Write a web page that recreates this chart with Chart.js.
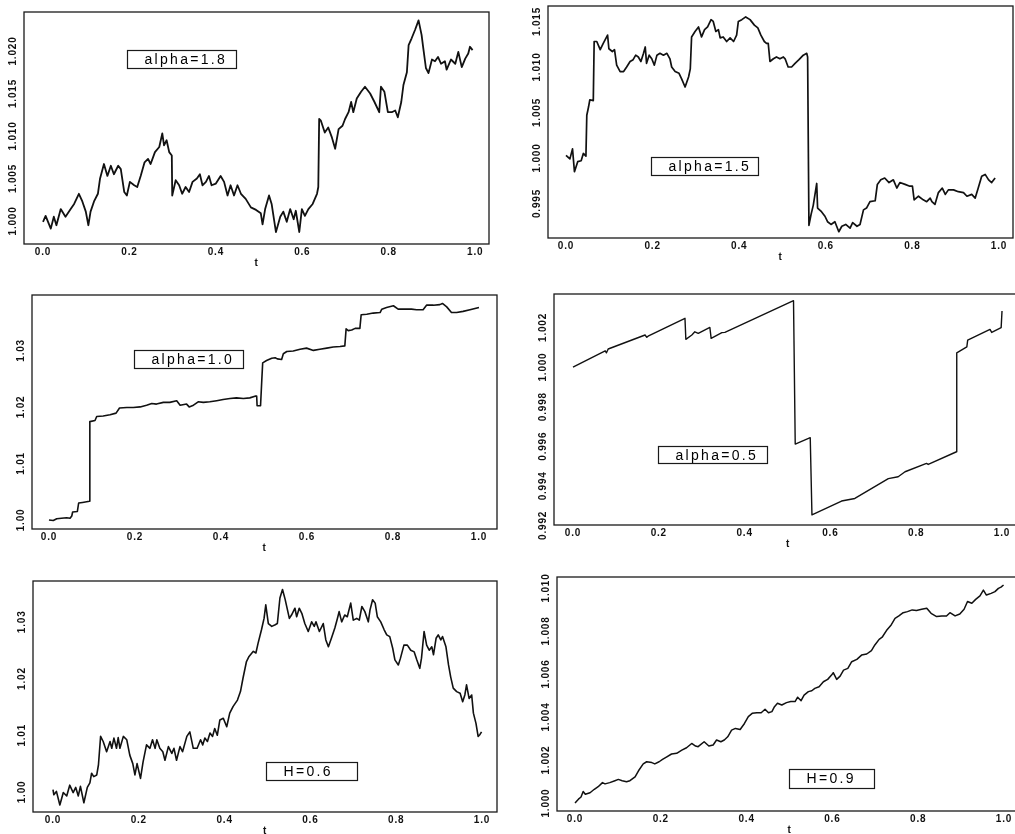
<!DOCTYPE html>
<html>
<head>
<meta charset="utf-8">
<script src="https://cdn.jsdelivr.net/npm/chart.js@4.4.1/dist/chart.umd.min.js"></script>
<style>
  html, body { margin: 0; padding: 0; background: #fff; overflow: hidden; width: 1015px; height: 834px; }
  canvas { position: absolute; }
</style>
</head>
<body>
<canvas id="c1"></canvas>
<canvas id="c2"></canvas>
<canvas id="c3"></canvas>
<canvas id="c4"></canvas>
<canvas id="c5"></canvas>
<canvas id="c6"></canvas>
<script>
'use strict';

let xTicks = [0, 0.2, 0.4, 0.6, 0.8, 1.0];
let panelLabels = ['alpha=1.8', 'alpha=1.5', 'alpha=1.0', 'alpha=0.5', 'H=0.6', 'H=0.9'];

// alpha=1.8
let p1T = [0, 0.006, 0.018, 0.025, 0.031, 0.041, 0.052, 0.064, 0.072, 0.083,
  0.091, 0.099, 0.105, 0.110, 0.118, 0.127, 0.132, 0.141, 0.149, 0.157,
  0.164, 0.174, 0.180, 0.188, 0.194, 0.201, 0.211, 0.218, 0.226, 0.235,
  0.243, 0.249, 0.259, 0.269, 0.276, 0.280, 0.286, 0.292, 0.298, 0.299,
  0.307, 0.315, 0.322, 0.330, 0.338, 0.346, 0.356, 0.363, 0.369, 0.377,
  0.384, 0.390, 0.400, 0.411, 0.419, 0.427, 0.434, 0.442, 0.450, 0.458,
  0.469, 0.481, 0.493, 0.504, 0.508, 0.514, 0.523, 0.529, 0.539, 0.549,
  0.556, 0.564, 0.572, 0.580, 0.585, 0.593, 0.599, 0.606, 0.614, 0.624,
  0.634, 0.637, 0.639, 0.643, 0.652, 0.660, 0.668, 0.676, 0.684, 0.693,
  0.699, 0.707, 0.713, 0.718, 0.726, 0.736, 0.745, 0.757, 0.767, 0.778,
  0.782, 0.790, 0.798, 0.807, 0.815, 0.821, 0.829, 0.834, 0.842, 0.846,
  0.853, 0.861, 0.869, 0.876, 0.880, 0.886, 0.892, 0.900, 0.907, 0.914,
  0.921, 0.930, 0.934, 0.944, 0.954, 0.961, 0.969, 0.977, 0.984, 0.988,
  0.994];
let p1V = [0.9999, 1.0006, 0.9991, 1.0005, 0.9995, 1.0014, 1.0005, 1.0014, 1.0020, 1.0032,
  1.0023, 1.0011, 0.9995, 1.0011, 1.0023, 1.0032, 1.0050, 1.0067, 1.0053, 1.0065,
  1.0055, 1.0065, 1.0061, 1.0034, 1.0030, 1.0046, 1.0042, 1.0040, 1.0053, 1.0069,
  1.0073, 1.0067, 1.0081, 1.0087, 1.0103, 1.0089, 1.0095, 1.0081, 1.0077, 1.0030,
  1.0048, 1.0042, 1.0032, 1.0040, 1.0034, 1.0046, 1.0050, 1.0055, 1.0042, 1.0046,
  1.0053, 1.0042, 1.0044, 1.0053, 1.0046, 1.0030, 1.0042, 1.0030, 1.0042, 1.0032,
  1.0026, 1.0016, 1.0013, 1.0009, 0.9996, 1.0014, 1.0030, 1.0020, 0.9987, 1.0005,
  1.0011, 0.9999, 1.0014, 1.0002, 1.0012, 0.9987, 1.0014, 1.0006, 1.0014, 1.0020,
  1.0032, 1.0040, 1.0120, 1.0118, 1.0104, 1.0110, 1.0099, 1.0085, 1.0108, 1.0112,
  1.0120, 1.0128, 1.0140, 1.0128, 1.0144, 1.0152, 1.0158, 1.0150, 1.0140, 1.0128,
  1.0158, 1.0152, 1.0128, 1.0128, 1.0130, 1.0122, 1.0140, 1.0160, 1.0175, 1.0207,
  1.0215, 1.0225, 1.0236, 1.0219, 1.0203, 1.0180, 1.0174, 1.0190, 1.0188, 1.0193,
  1.0185, 1.0188, 1.0178, 1.0190, 1.0185, 1.0199, 1.0181, 1.0191, 1.0197, 1.0205,
  1.0201];
let p1YTicks = [1.000, 1.005, 1.010, 1.015, 1.020];

// alpha=1.5
let p2T = [0, 0.009, 0.015, 0.0195, 0.027, 0.035, 0.040, 0.046, 0.048, 0.052,
  0.055, 0.063, 0.065, 0.071, 0.079, 0.086, 0.096, 0.099, 0.107, 0.112,
  0.117, 0.125, 0.133, 0.140, 0.148, 0.155, 0.161, 0.167, 0.173, 0.179,
  0.183, 0.186, 0.192, 0.198, 0.204, 0.210, 0.217, 0.225, 0.233, 0.240,
  0.244, 0.252, 0.261, 0.267, 0.275, 0.283, 0.287, 0.290, 0.298, 0.306,
  0.313, 0.320, 0.327, 0.335, 0.340, 0.346, 0.352, 0.356, 0.363, 0.371,
  0.379, 0.387, 0.394, 0.398, 0.406, 0.415, 0.425, 0.435, 0.443, 0.450,
  0.458, 0.463, 0.467, 0.471, 0.479, 0.486, 0.494, 0.502, 0.506, 0.513,
  0.521, 0.529, 0.538, 0.548, 0.556, 0.558, 0.561, 0.566, 0.571, 0.579,
  0.581, 0.590, 0.598, 0.604, 0.612, 0.621, 0.630, 0.637, 0.646, 0.656,
  0.662, 0.672, 0.679, 0.687, 0.694, 0.702, 0.714, 0.719, 0.727, 0.736,
  0.746, 0.756, 0.764, 0.771, 0.783, 0.794, 0.800, 0.804, 0.814, 0.825,
  0.833, 0.841, 0.845, 0.852, 0.860, 0.869, 0.876, 0.883, 0.895, 0.906,
  0.918, 0.926, 0.937, 0.945, 0.952, 0.960, 0.968, 0.976, 0.983, 0.991];
let p2V = [1.0003, 0.9999, 1.0010, 0.9985, 0.9996, 0.9997, 1.0005, 1.0002, 1.0047, 1.0056,
  1.0064, 1.0063, 1.0128, 1.0128, 1.0119, 1.0126, 1.0135, 1.0120, 1.0117, 1.0119,
  1.0102, 1.0095, 1.0095, 1.0100, 1.0106, 1.0108, 1.0113, 1.0111, 1.0106, 1.0115,
  1.0122, 1.0104, 1.0113, 1.0109, 1.0102, 1.0113, 1.0115, 1.0113, 1.0115, 1.0109,
  1.0100, 1.0095, 1.0093, 1.0087, 1.0078, 1.0089, 1.0098, 1.0133, 1.0139, 1.0144,
  1.0133, 1.0141, 1.0144, 1.0152, 1.0150, 1.0139, 1.0141, 1.0132, 1.0133, 1.0128,
  1.0132, 1.0128, 1.0135, 1.0150, 1.0152, 1.0155, 1.0152, 1.0146, 1.0143, 1.0135,
  1.0128, 1.0126, 1.0126, 1.0106, 1.0109, 1.0111, 1.0109, 1.0111, 1.0109, 1.0100,
  1.0100, 1.0104, 1.0108, 1.0113, 1.0115, 1.0111, 0.9926, 0.9938, 0.9948, 0.9972,
  0.9945, 0.9941, 0.9936, 0.9930, 0.9927, 0.9930, 0.9919, 0.9925, 0.9927, 0.9923,
  0.9929, 0.9925, 0.9927, 0.9943, 0.9945, 0.9952, 0.9953, 0.9971, 0.9976, 0.9978,
  0.9973, 0.9976, 0.9967, 0.9973, 0.9971, 0.9969, 0.9969, 0.9954, 0.9958, 0.9954,
  0.9952, 0.9956, 0.9952, 0.9949, 0.9962, 0.9967, 0.9960, 0.9965, 0.9965, 0.9963,
  0.9962, 0.9958, 0.9960, 0.9956, 0.9967, 0.9980, 0.9982, 0.9976, 0.9973, 0.9978];
let p2YTicks = [0.995, 1.000, 1.005, 1.010, 1.015];

// alpha=1.0
let p3T = [0, 0.010, 0.018, 0.029, 0.041, 0.049, 0.053, 0.055, 0.066, 0.069,
  0.078, 0.094, 0.095, 0.107, 0.111, 0.126, 0.142, 0.156, 0.164, 0.181,
  0.196, 0.212, 0.227, 0.239, 0.250, 0.266, 0.281, 0.297, 0.305, 0.320,
  0.326, 0.336, 0.347, 0.359, 0.374, 0.390, 0.405, 0.421, 0.436, 0.452,
  0.467, 0.479, 0.483, 0.484, 0.492, 0.495, 0.497, 0.506, 0.518, 0.526,
  0.531, 0.541, 0.545, 0.553, 0.568, 0.584, 0.599, 0.615, 0.630, 0.646,
  0.661, 0.677, 0.688, 0.691, 0.696, 0.704, 0.712, 0.723, 0.726, 0.739,
  0.754, 0.770, 0.774, 0.785, 0.801, 0.812, 0.828, 0.843, 0.855, 0.870,
  0.878, 0.894, 0.909, 0.915, 0.925, 0.936, 0.948, 0.963, 0.979, 1.0];
let p3V = [1.0000, 0.9999, 1.0002, 1.0003, 1.0004, 1.0003, 1.0007, 1.0014, 1.0015, 1.0030,
  1.0031, 1.0033, 1.0174, 1.0176, 1.0183, 1.0184, 1.0186, 1.0189, 1.0198, 1.0199,
  1.0199, 1.0200, 1.0203, 1.0206, 1.0205, 1.0208, 1.0208, 1.0211, 1.0203, 1.0205,
  1.0200, 1.0203, 1.0209, 1.0208, 1.0209, 1.0211, 1.0213, 1.0215, 1.0216, 1.0215,
  1.0216, 1.0219, 1.0219, 1.0202, 1.0202, 1.0249, 1.0278, 1.0282, 1.0286, 1.0287,
  1.0285, 1.0284, 1.0294, 1.0298, 1.0299, 1.0302, 1.0304, 1.0300, 1.0302, 1.0304,
  1.0306, 1.0307, 1.0308, 1.0338, 1.0335, 1.0336, 1.0339, 1.0339, 1.0363, 1.0364,
  1.0366, 1.0367, 1.0373, 1.0376, 1.0379, 1.0373, 1.0373, 1.0373, 1.0372, 1.0372,
  1.0380, 1.0380, 1.0381, 1.0383, 1.0377, 1.0367, 1.0367, 1.0369, 1.0372, 1.0376];
let p3YTicks = [1.00, 1.01, 1.02, 1.03];

// alpha=0.5
let p4T = [0, 0.075, 0.078, 0.082, 0.168, 0.172, 0.175, 0.261, 0.263, 0.277,
  0.284, 0.292, 0.319, 0.322, 0.347, 0.354, 0.514, 0.518, 0.553, 0.557,
  0.626, 0.657, 0.735, 0.758, 0.774, 0.824, 0.828, 0.894, 0.8945, 0.918,
  0.920, 0.972, 0.976, 0.998, 1.0];
let p4V = [1.00000, 1.00082, 1.00072, 1.00091, 1.00162, 1.00150, 1.00156, 1.00246, 1.00140, 1.00162,
  1.00178, 1.00170, 1.00200, 1.00145, 1.00174, 1.00175, 1.00335, 0.99611, 0.99643, 0.99253,
  0.99323, 0.99336, 0.99436, 0.99446, 0.99471, 0.99513, 0.99508, 0.99572, 1.00072, 1.00102,
  1.00136, 1.00190, 1.00175, 1.00199, 1.00283];
let p4YTicks = [0.992, 0.994, 0.996, 0.998, 1.000, 1.002];

// H=0.6
let p5T = [0, 0.002, 0.008, 0.016, 0.024, 0.032, 0.039, 0.047, 0.053, 0.059,
  0.064, 0.072, 0.080, 0.086, 0.090, 0.095, 0.102, 0.106, 0.111, 0.117,
  0.125, 0.133, 0.137, 0.142, 0.148, 0.152, 0.156, 0.164, 0.172, 0.179,
  0.186, 0.191, 0.196, 0.204, 0.210, 0.218, 0.226, 0.232, 0.238, 0.242,
  0.249, 0.256, 0.261, 0.269, 0.277, 0.282, 0.288, 0.296, 0.302, 0.312,
  0.319, 0.327, 0.336, 0.344, 0.349, 0.354, 0.360, 0.366, 0.372, 0.377,
  0.383, 0.389, 0.397, 0.405, 0.412, 0.420, 0.430, 0.437, 0.443, 0.451,
  0.457, 0.467, 0.473, 0.478, 0.486, 0.492, 0.496, 0.502, 0.510, 0.518,
  0.523, 0.529, 0.535, 0.541, 0.551, 0.556, 0.564, 0.568, 0.574, 0.580,
  0.587, 0.595, 0.603, 0.609, 0.613, 0.621, 0.630, 0.636, 0.642, 0.649,
  0.657, 0.663, 0.667, 0.673, 0.680, 0.686, 0.694, 0.700, 0.708, 0.714,
  0.720, 0.727, 0.735, 0.739, 0.745, 0.751, 0.756, 0.764, 0.772, 0.778,
  0.785, 0.792, 0.797, 0.805, 0.810, 0.818, 0.826, 0.834, 0.842, 0.848,
  0.855, 0.859, 0.865, 0.871, 0.877, 0.883, 0.887, 0.893, 0.898, 0.904,
  0.908, 0.916, 0.922, 0.927, 0.933, 0.941, 0.949, 0.955, 0.960, 0.964,
  0.970, 0.976, 0.980, 0.986, 0.991, 0.995, 0.999];
let p5V = [1.0004, 0.9995, 1.0001, 0.9977, 0.9999, 0.9993, 1.0012, 0.9999, 1.0008, 0.9993,
  1.0010, 0.9981, 1.0008, 1.0016, 1.0033, 1.0027, 1.0030, 1.0048, 1.0098, 1.0089,
  1.0071, 1.0089, 1.0077, 1.0095, 1.0077, 1.0096, 1.0077, 1.0098, 1.0092, 1.0065,
  1.0050, 1.0030, 1.0050, 1.0024, 1.0053, 1.0083, 1.0077, 1.0092, 1.0077, 1.0092,
  1.0077, 1.0071, 1.0056, 1.0080, 1.0068, 1.0077, 1.0056, 1.0080, 1.0071, 1.0098,
  1.0106, 1.0077, 1.0077, 1.0092, 1.0083, 1.0095, 1.0089, 1.0104, 1.0098, 1.0112,
  1.0100, 1.0127, 1.0130, 1.0115, 1.0139, 1.0151, 1.0162, 1.0177, 1.0201, 1.0230,
  1.0239, 1.0248, 1.0245, 1.0262, 1.0286, 1.0306, 1.0330, 1.0297, 1.0292, 1.0295,
  1.0297, 1.0342, 1.0357, 1.0340, 1.0306, 1.0312, 1.0324, 1.0309, 1.0324, 1.0315,
  1.0297, 1.0283, 1.0300, 1.0292, 1.0300, 1.0283, 1.0297, 1.0268, 1.0256, 1.0271,
  1.0289, 1.0306, 1.0318, 1.0300, 1.0312, 1.0309, 1.0333, 1.0303, 1.0306, 1.0303,
  1.0327, 1.0318, 1.0300, 1.0321, 1.0339, 1.0333, 1.0309, 1.0300, 1.0286, 1.0277,
  1.0274, 1.0253, 1.0233, 1.0224, 1.0236, 1.0259, 1.0259, 1.0250, 1.0247, 1.0233,
  1.0218, 1.0236, 1.0283, 1.0259, 1.0250, 1.0256, 1.0242, 1.0271, 1.0277, 1.0268,
  1.0274, 1.0256, 1.0224, 1.0203, 1.0183, 1.0177, 1.0174, 1.0159, 1.0171, 1.0189,
  1.0165, 1.0171, 1.0139, 1.0121, 1.0098, 1.0101, 1.0106];
let p5YTicks = [1.00, 1.01, 1.02, 1.03];

// H=0.9
let p6T = [0, 0.008, 0.014, 0.019, 0.024, 0.035, 0.045, 0.054, 0.064, 0.070,
  0.081, 0.093, 0.101, 0.110, 0.120, 0.128, 0.140, 0.148, 0.159, 0.167,
  0.179, 0.186, 0.196, 0.204, 0.214, 0.225, 0.237, 0.249, 0.260, 0.272,
  0.281, 0.287, 0.301, 0.312, 0.322, 0.330, 0.340, 0.348, 0.356, 0.365,
  0.374, 0.385, 0.395, 0.404, 0.413, 0.424, 0.434, 0.443, 0.451, 0.459,
  0.465, 0.472, 0.482, 0.493, 0.503, 0.513, 0.519, 0.527, 0.534, 0.544,
  0.552, 0.559, 0.569, 0.579, 0.589, 0.598, 0.602, 0.610, 0.618, 0.626,
  0.636, 0.645, 0.657, 0.668, 0.680, 0.691, 0.699, 0.709, 0.716, 0.726,
  0.737, 0.746, 0.755, 0.765, 0.775, 0.786, 0.796, 0.808, 0.820, 0.830,
  0.843, 0.855, 0.866, 0.874, 0.886, 0.897, 0.907, 0.915, 0.925, 0.934,
  0.944, 0.952, 0.959, 0.970, 0.979, 0.987, 0.993, 0.999];
let p6V = [1.00000, 1.00018, 1.00028, 1.00054, 1.00041, 1.00048, 1.00064, 1.00076, 1.00095, 1.00089,
  1.00095, 1.00104, 1.00110, 1.00104, 1.00099, 1.00104, 1.00122, 1.00150, 1.00182, 1.00192,
  1.00188, 1.00182, 1.00192, 1.00203, 1.00215, 1.00228, 1.00231, 1.00246, 1.00257, 1.00277,
  1.00265, 1.00262, 1.00285, 1.00265, 1.00270, 1.00293, 1.00285, 1.00293, 1.00308, 1.00339,
  1.00347, 1.00342, 1.00370, 1.00402, 1.00417, 1.00420, 1.00420, 1.00436, 1.00420, 1.00425,
  1.00448, 1.00464, 1.00456, 1.00467, 1.00472, 1.00472, 1.00492, 1.00476, 1.00502, 1.00518,
  1.00522, 1.00533, 1.00541, 1.00564, 1.00575, 1.00595, 1.00606, 1.00575, 1.00590, 1.00618,
  1.00626, 1.00657, 1.00668, 1.00688, 1.00693, 1.00709, 1.00735, 1.00761, 1.00771, 1.00802,
  1.00828, 1.00859, 1.00870, 1.00885, 1.00890, 1.00898, 1.00895, 1.00901, 1.00906, 1.00882,
  1.00867, 1.00870, 1.00870, 1.00885, 1.00870, 1.00879, 1.00901, 1.00937, 1.00929, 1.00947,
  1.00963, 1.00990, 1.00967, 1.00975, 1.00983, 1.00998, 1.01004, 1.01014];
let p6YTicks = [1.000, 1.002, 1.004, 1.006, 1.008, 1.010];

const FONT = '"Liberation Sans", Arial, sans-serif';
const Y_AXIS_W = 24;
const X_AXIS_H = 25;
const PAD = 3;

// frame = plot box on the page, box = label box relative to the plot box
let panels = [
  { id: 'c1', t: p1T, v: p1V, yTicks: p1YTicks, dec: 3, lw: 1.8, frame: [24, 12, 489, 244],
    x: [-0.044, 1.032], y: [0.99729, 1.02459], box: [103, 38, 109, 18] },
  { id: 'c2', t: p2T, v: p2V, yTicks: p2YTicks, dec: 3, lw: 1.7, frame: [548, 6, 1013, 238],
    x: [-0.0416, 1.0323], y: [0.99121, 1.0167], box: [103, 151, 107, 18] },
  { id: 'c3', t: p3T, v: p3V, yTicks: p3YTicks, dec: 2, lw: 1.6, frame: [32, 295, 497, 529],
    x: [-0.0395, 1.0419], y: [0.9984, 1.0398], box: [102, 55, 109, 18] },
  { id: 'c4', t: p4T, v: p4V, yTicks: p4YTicks, dec: 3, lw: 1.4, frame: [554, 294, 1022, 525],
    x: [-0.0443, 1.0466], y: [0.99202, 1.00369], box: [104, 152, 109, 17] },
  { id: 'c5', t: p5T, v: p5V, yTicks: p5YTicks, dec: 2, lw: 1.6, frame: [33, 581, 497, 812],
    x: [-0.0466, 1.035], y: [0.99647, 1.0372], box: [233, 181, 91, 18] },
  { id: 'c6', t: p6T, v: p6V, yTicks: p6YTicks, dec: 3, lw: 1.5, frame: [557, 577, 1022, 811],
    x: [-0.042, 1.042], y: [0.99963, 1.01051], box: [232, 192, 85, 19] }
];

// frame, rotated y labels and the label box
const panelDeco = {
  id: 'panelDeco',
  beforeDraw(chart) {
    chart.ctx.letterSpacing = '0.8px';
  },
  afterDraw(chart, args, opts) {
    let ctx = chart.ctx;
    let area = chart.chartArea;
    let yScale = chart.scales.y;
    ctx.save();
    ctx.strokeStyle = '#1a1a1a';
    ctx.lineWidth = 1.3;
    ctx.strokeRect(area.left, area.top, area.right - area.left, area.bottom - area.top);

    ctx.fillStyle = '#111';
    ctx.font = 'bold 10px ' + FONT;
    ctx.textAlign = 'center';
    ctx.textBaseline = 'middle';
    yScale.ticks.forEach(tk => {
      let py = yScale.getPixelForValue(tk.value);
      ctx.save();
      ctx.translate(area.left - 11, py);
      ctx.rotate(-Math.PI / 2);
      ctx.fillText(tk.value.toFixed(opts.dec), 0, 0);
      ctx.restore();
    });

    let b = opts.box;
    let bx = Math.round(area.left + b[0]) + 0.5;
    let by = Math.round(area.top + b[1]) + 0.5;
    ctx.fillStyle = '#fff';
    ctx.fillRect(bx, by, b[2], b[3]);
    ctx.lineWidth = 1.2;
    ctx.strokeRect(bx, by, b[2], b[3]);
    ctx.letterSpacing = '2.3px';
    ctx.font = '14px ' + FONT;
    ctx.textAlign = 'left';
    ctx.textBaseline = 'alphabetic';
    ctx.fillStyle = '#000';
    ctx.fillText(opts.text, bx + 17, by + 13.5);
    ctx.restore();
  }
};

function makePanel(p, label) {
  let canvas = document.getElementById(p.id);
  let left = p.frame[0] - Y_AXIS_W;
  let top = p.frame[1] - PAD;
  canvas.width = p.frame[2] + PAD - left;
  canvas.height = p.frame[3] + X_AXIS_H - top;
  canvas.style.left = left + 'px';
  canvas.style.top = top + 'px';

  let points = p.t.map((t, i) => ({ x: t, y: p.v[i] }));

  return new Chart(canvas.getContext('2d'), {
    type: 'scatter',
    data: {
      datasets: [{
        data: points,
        showLine: true,
        borderColor: '#111',
        borderWidth: p.lw,
        borderJoinStyle: 'round',
        pointRadius: 0,
        tension: 0,
        fill: false
      }]
    },
    options: {
      responsive: false,
      animation: false,
      events: [],
      layout: { padding: { top: PAD, right: PAD, left: 0, bottom: 0 } },
      plugins: {
        legend: { display: false },
        tooltip: { enabled: false },
        panelDeco: { dec: p.dec, box: p.box, text: label }
      },
      scales: {
        x: {
          type: 'linear',
          min: p.x[0],
          max: p.x[1],
          afterBuildTicks: s => { s.ticks = xTicks.map(v => ({ value: v })); },
          afterFit: s => { s.height = X_AXIS_H; },
          grid: { display: false, drawTicks: false },
          border: { display: false },
          ticks: {
            padding: 2,
            autoSkip: false,
            maxRotation: 0,
            color: '#111',
            font: { size: 10, weight: 'bold', family: FONT },
            callback: v => Number(v).toFixed(1)
          },
          title: {
            display: true,
            text: 't',
            padding: 0,
            color: '#111',
            font: { size: 10, weight: 'bold', family: FONT }
          }
        },
        y: {
          type: 'linear',
          min: p.y[0],
          max: p.y[1],
          afterBuildTicks: s => { s.ticks = p.yTicks.map(v => ({ value: v })); },
          afterFit: s => { s.width = Y_AXIS_W; },
          grid: { display: false, drawTicks: false },
          border: { display: false },
          ticks: { display: false }
        }
      }
    },
    plugins: [panelDeco]
  });
}

for (let i = 0; i < panels.length; i++) {
  makePanel(panels[i], panelLabels[i]);
}
</script>
</body>
</html>
